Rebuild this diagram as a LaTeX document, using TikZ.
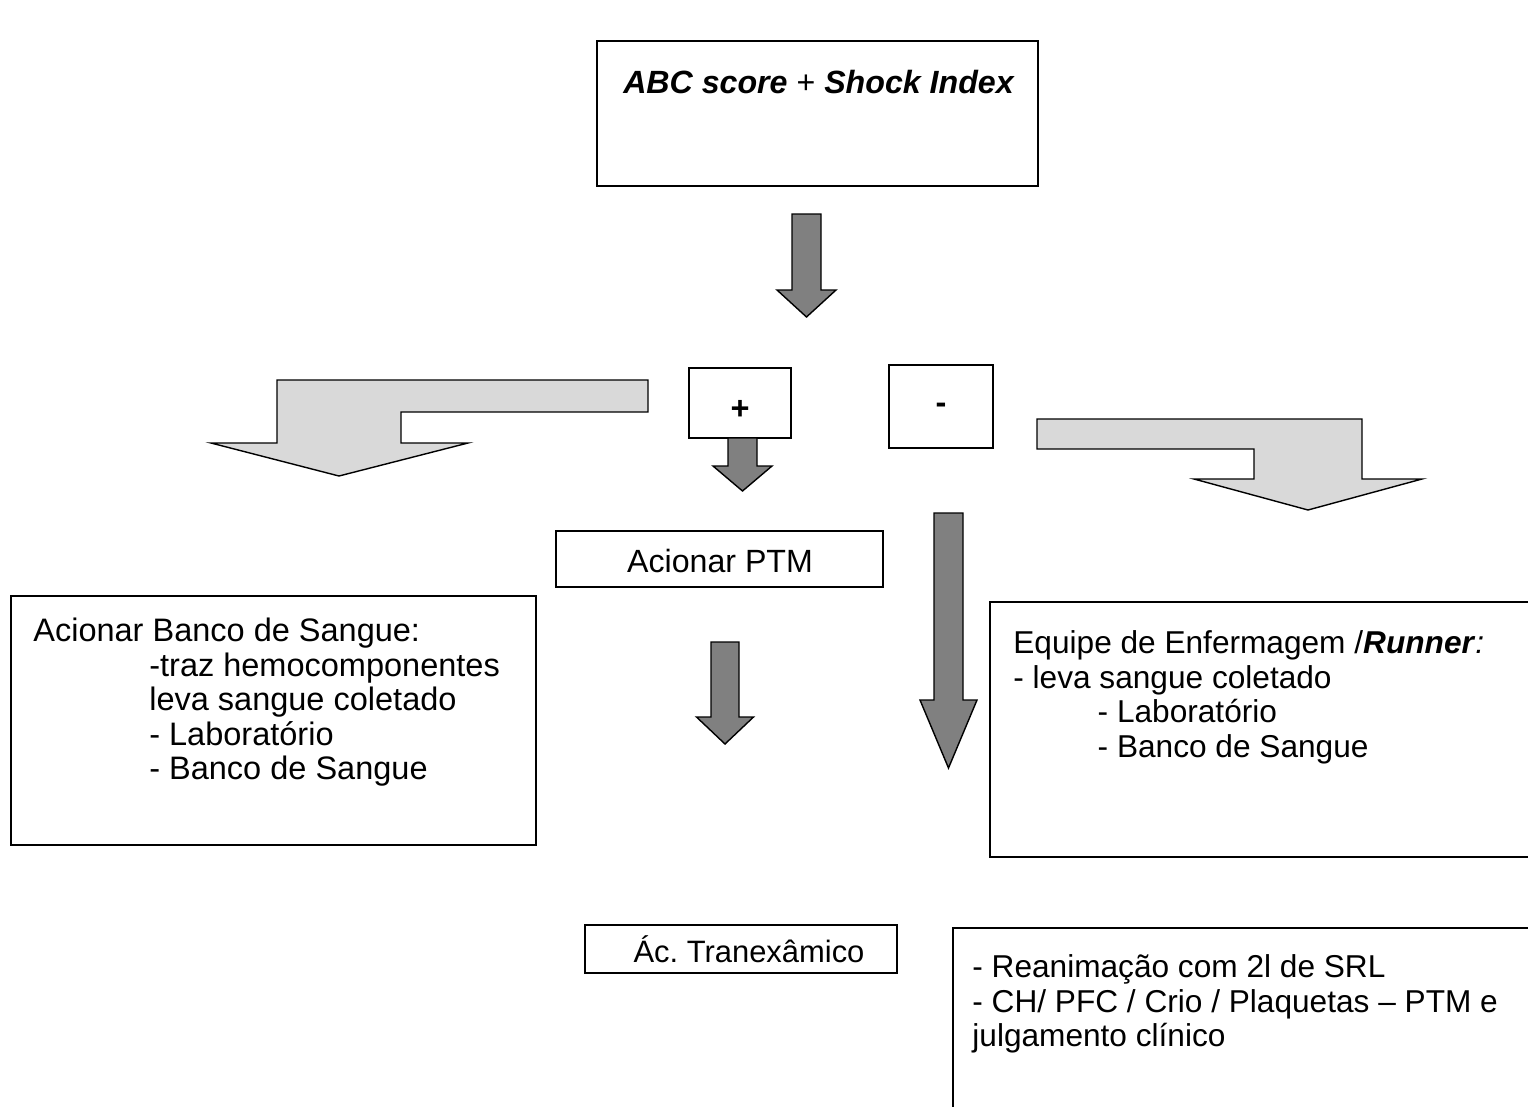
\documentclass[tikz,border=0pt]{standalone}
\usepackage{fontspec}
\setmainfont{Liberation Sans}
\usetikzlibrary{fit}
\definecolor{darkfill}{gray}{0.5}
\definecolor{lightfill}{gray}{0.85}
\tikzset{
  box/.style={draw, line width=1.1pt, inner sep=0pt},
  txt/.style={inner sep=0pt, align=left, font=\fontsize{18.5}{19.6}\selectfont},
  txtsmall/.style={txt, font=\fontsize{18}{19.8}\selectfont},
  darkarrow/.style={fill=darkfill, draw=black, line width=0.8pt},
  lightarrow/.style={fill=lightfill, draw=black, line width=0.8pt},
}
\frenchspacing
\begin{document}
\begin{tikzpicture}[x=0.02cm, y=-0.02cm]
    \path[use as bounding box, clip] (0,0) rectangle (1528,1106);

    % top box
    \node[box, fit={(597,41) (1038,186)}] (score) {};
    \node[txt, anchor=base, font=\fontsize{18.3}{19.6}\selectfont] (scoretxt) at (819,93) {\textbf{\textit{ABC score}} + \textbf{\textit{Shock Index}}};
    \filldraw[darkarrow, shift={(806.5,214)}] (-14.5,0) -- (14.5,0) -- (14.5,76) -- (29.5,76) -- (0,103) -- (-29.5,76) -- (-14.5,76) -- cycle;

    % + and -
    \node[box, fit={(689,368) (791,438)}] (plus) {};
    \node[txt, font=\fontsize{18.5}{19.6}\selectfont\bfseries] (plustxt) at (740,410) {+};
    \node[box, fit={(889,365) (993,448)}] (minus) {};
    \node[txt, font=\fontsize{18.5}{19.6}\selectfont\bfseries] (minustxt) at (941,408) {-};

    \filldraw[lightarrow] (648,380) -- (277,380) -- (277,443) -- (211,443) -- (339,476) -- (468,443) -- (401,443) -- (401,412) -- (648,412) -- cycle;
    \filldraw[lightarrow] (1037,419) -- (1362,419) -- (1362,479) -- (1422,479) -- (1308,510) -- (1194,479) -- (1254,479) -- (1254,449) -- (1037,449) -- cycle;

    \filldraw[darkarrow, shift={(742.5,438)}] (-14.5,0) -- (14.5,0) -- (14.5,28) -- (29.5,28) -- (0,53) -- (-29.5,28) -- (-14.5,28) -- cycle;
    \filldraw[darkarrow, shift={(948.5,513)}] (-14.5,0) -- (14.5,0) -- (14.5,187) -- (28.5,187) -- (0,255) -- (-28.5,187) -- (-14.5,187) -- cycle;

    % middle column
    \node[box, fit={(556,531) (883,587)}] (ptm) {};
    \node[txt, font=\fontsize{18.3}{19.6}\selectfont] (ptmtxt) at (720,561) {Acionar PTM};
    \filldraw[darkarrow, shift={(725,642)}] (-14,0) -- (14,0) -- (14,75) -- (28.5,75) -- (0,102) -- (-28.5,75) -- (-14,75) -- cycle;
    \node[box, fit={(585,925) (897,973)}] (tranex) {};
    \node[txt, font=\fontsize{17.6}{19.6}\selectfont] (tranextxt) at (749,949) {Ác. Tranexâmico};

    % left box
    \node[box, fit={(11,596) (536,845)}] (banco) {};
    \node[txt, anchor=north west] (bancotxt) at ([shift={(23,23)}]banco.north west) {Acionar Banco de Sangue:\\
        \hspace*{66pt}-traz hemocomponentes\\
        \hspace*{66pt}leva sangue coletado\\
        \hspace*{66pt}- Laboratório\\
        \hspace*{66pt}- Banco de Sangue};

    % right boxes
    \node[box, fit={(990,602) (1545,857)}] (enf) {};
    \node[txtsmall, anchor=north west] (enftxt) at ([shift={(24,29)}]enf.north west) {Equipe de Enfermagem /\textbf{\textit{Runner}}\textit{:}\\
        - leva sangue coletado\\
        \hspace*{48pt}- Laboratório\\
        \hspace*{48pt}- Banco de Sangue};

    \node[box, fit={(953,928) (1545,1120)}] (reanim) {};
    \node[txtsmall, anchor=north west] (reanimtxt) at ([shift={(20,27)}]reanim.north west) {- Reanimação com 2l de SRL\\
        - CH/ PFC / Crio / Plaquetas -- PTM e\\
        julgamento clínico};
\end{tikzpicture}
\end{document}
